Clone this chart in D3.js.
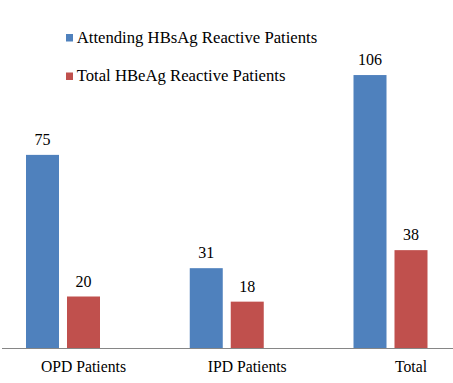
<!DOCTYPE html>
<html>
<head>
<meta charset="utf-8">
<script src="https://cdn.jsdelivr.net/npm/d3@7"></script>
</head>
<body style="margin:0;padding:0;background:#fff">
<svg id="chart" width="453" height="383" style="display:block"></svg>
<script>
const categories = ["OPD Patients", "IPD Patients", "Total"];
const seriesNames = ["Attending HBsAg Reactive Patients", "Total HBeAg Reactive Patients"];
const attendingHBsAg = [75, 31, 106];
const totalHBeAg = [20, 18, 38];
const seriesColors = ["#4F81BD", "#C0504D"];

const FONT = '"Liberation Serif"';
const seriesValues = [attendingHBsAg, totalHBeAg];
const svg = d3.select("#chart");

const x = d3.scaleBand().domain(categories).range([-18.875, 472.375]).padding(0);
const xs = d3.scaleBand().domain(seriesNames).range([-37, 37]).paddingInner(0.195).paddingOuter(0);
const y = d3.scaleLinear().domain([0, 120]).range([348, 39]);

const data = [];
categories.forEach((c, i) => {
  seriesNames.forEach((s, j) => {
    data.push({ cat: c, series: s, value: seriesValues[j][i], color: seriesColors[j] });
  });
});

const cx = c => x(c) + x.bandwidth() / 2;

svg.append("g").selectAll("rect")
  .data(data).join("rect")
  .attr("x", d => cx(d.cat) + xs(d.series))
  .attr("y", d => y(d.value))
  .attr("width", xs.bandwidth())
  .attr("height", d => y(0) - y(d.value))
  .attr("fill", d => d.color);

svg.append("g").selectAll("text")
  .data(data).join("text")
  .attr("x", d => cx(d.cat) + xs(d.series) + xs.bandwidth() / 2)
  .attr("y", d => y(d.value) - 10)
  .attr("text-anchor", "middle")
  .style("font-family", FONT).style("font-size", "16px").attr("fill", "#000")
  .text(d => d.value);

// axis
const axis = svg.append("g")
  .attr("transform", `translate(0,${y(0)})`)
  .call(d3.axisBottom(x).tickSize(0).tickSizeOuter(0));
axis.select(".domain").remove();
axis.selectAll("text")
  .attr("dx", 20.5)
  .attr("dy", 0)
  .attr("y", 24)
  .style("font-family", FONT)
  .style("font-size", "15.7px")
  .attr("fill", "#000");
svg.append("line")
  .attr("x1", 2).attr("x2", 453)
  .attr("y1", y(0) + 0.5).attr("y2", y(0) + 0.5)
  .attr("stroke", "#868686").attr("stroke-width", 1);

// legend
const legend = svg.append("g").selectAll("g")
  .data(seriesNames).join("g")
  .attr("transform", (d, i) => `translate(66,${34 + i * 38.5})`);
legend.append("rect")
  .attr("width", 7).attr("height", 7.5)
  .attr("fill", (d, i) => seriesColors[i]);
legend.append("text")
  .attr("x", 10.7).attr("y", 8.8)
  .style("font-family", FONT).style("font-size", "16.7px").attr("fill", "#000")
  .text(d => d);
</script>
</body>
</html>
